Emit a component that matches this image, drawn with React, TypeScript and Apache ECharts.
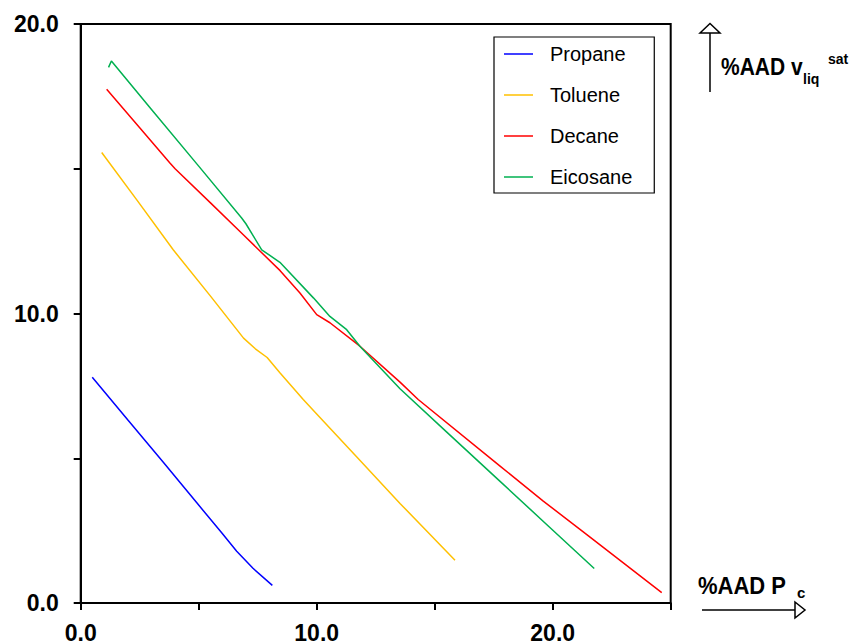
import React, { useEffect, useRef } from "react";
import * as echarts from "echarts";

const seriesNames = ["Propane", "Toluene", "Decane", "Eicosane"];
const seriesColors = ["#0000FF", "#FFC000", "#FF0000", "#00B050"];

const propane: number[][] = [
  [0.49, 7.8], [2.0, 6.32], [3.5, 4.86], [4.92, 3.46], [6.0, 2.4], [6.61, 1.79], [7.3, 1.2], [8.12, 0.61],
];
const toluene: number[][] = [
  [0.89, 15.56], [2.4, 13.9], [3.92, 12.2], [5.5, 10.6], [6.9, 9.15], [7.4, 8.78], [7.9, 8.48], [8.44, 7.95],
  [9.43, 7.03], [10.0, 6.53], [11.7, 5.04], [13.53, 3.44], [15.86, 1.48],
];
const decane: number[][] = [
  [1.1, 17.75], [2.5, 16.42], [3.78, 15.2], [4.0, 15.0], [5.5, 13.82], [6.89, 12.72], [8.45, 11.48],
  [9.29, 10.71], [10.0, 9.96], [10.56, 9.68], [11.83, 8.87], [13.53, 7.63], [14.3, 7.03], [17.77, 4.73],
  [19.6, 3.52], [21.5, 2.33], [24.62, 0.36],
];
const eicosane: number[][] = [
  [1.18, 18.5], [1.3, 18.72], [3.0, 17.05], [5.0, 15.09], [6.82, 13.3], [7.0, 13.1], [7.67, 12.2],
  [8.44, 11.77], [9.86, 10.54], [10.56, 9.9], [11.27, 9.44], [11.83, 8.87], [13.53, 7.4], [15.5, 5.91],
  [17.77, 4.2], [19.8, 2.67], [21.76, 1.19],
];
const seriesData = [propane, toluene, decane, eicosane];

const FONT = "Arial, 'Liberation Sans', sans-serif";

export default function App() {
  const ref = useRef<HTMLDivElement>(null);
  useEffect(() => {
    if (!ref.current) return;
    const chart = echarts.init(ref.current, undefined, { renderer: "svg" });
    const labelFmt = (v: number) => (v % 10 === 0 ? v.toFixed(1) : "");
    chart.setOption({
      animation: false,
      backgroundColor: "#fff",
      grid: {
        left: 80.7, top: 24, right: 190.3, bottom: 40.3,
        show: true, borderColor: "#000", borderWidth: 2, backgroundColor: "transparent",
      },
      xAxis: {
        type: "value", min: 0, max: 25, interval: 5,
        axisLine: { show: true, onZero: false, lineStyle: { color: "#000", width: 2 } },
        axisTick: { show: true, inside: false, length: 7, lineStyle: { color: "#000", width: 2 } },
        splitLine: { show: false },
        axisLabel: {
          formatter: labelFmt, margin: 18, color: "#000",
          fontSize: 23, fontWeight: "bold", fontFamily: FONT, showMaxLabel: true,
        },
      },
      yAxis: {
        type: "value", min: 0, max: 20, interval: 5,
        axisLine: { show: true, onZero: false, lineStyle: { color: "#000", width: 2 } },
        axisTick: { show: true, inside: false, length: 7, lineStyle: { color: "#000", width: 2 } },
        splitLine: { show: false },
        axisLabel: {
          formatter: labelFmt, margin: 22, color: "#000",
          fontSize: 23, fontWeight: "bold", fontFamily: FONT,
        },
      },
      legend: {
        orient: "vertical", left: 494, top: 37,
        padding: [7, 22, 6, 10],
        borderColor: "#000", borderWidth: 1.2, backgroundColor: "#fff",
        itemWidth: 29, itemHeight: 1.5, itemGap: 21,
        textStyle: { fontSize: 20, fontFamily: FONT, color: "#000", lineHeight: 20, padding: [0, 0, 0, 12] },
        data: seriesNames.map((name) => ({ name, icon: "rect" })),
      },
      series: seriesNames.map((name, i) => ({
        name, type: "line", data: seriesData[i], symbol: "none", showSymbol: false,
        smooth: false,
        lineStyle: { color: seriesColors[i], width: 1.5 },
        itemStyle: { color: seriesColors[i] },
      })),
      graphic: [
        // x axis annotation
        { type: "text", x: 698, y: 573, scaleY: 1.12, style: { text: "%AAD P", font: `bold 22px ${FONT}`, fill: "#000" } },
        { type: "text", x: 797, y: 585, style: { text: "c", font: `bold 15px ${FONT}`, fill: "#000" } },
        { type: "line", shape: { x1: 702, y1: 610, x2: 796, y2: 610 }, style: { stroke: "#000", lineWidth: 1.5 } },
        { type: "polygon", shape: { points: [[795, 602], [805, 610], [795, 618]] }, style: { fill: "#fff", stroke: "#000", lineWidth: 1.5 } },
        // y axis annotation
        { type: "line", shape: { x1: 710, y1: 92, x2: 710, y2: 33 }, style: { stroke: "#000", lineWidth: 1.5 } },
        { type: "polygon", shape: { points: [[700, 33], [710, 23.5], [720, 33]] }, style: { fill: "#fff", stroke: "#000", lineWidth: 1.5 } },
        { type: "text", x: 721, y: 55, scaleY: 1.12, style: { text: "%AAD v", font: `bold 21px ${FONT}`, fill: "#000" } },
        { type: "text", x: 803, y: 72, style: { text: "liq", font: `bold 14px ${FONT}`, fill: "#000" } },
        { type: "text", x: 828, y: 52, style: { text: "sat", font: `bold 14px ${FONT}`, fill: "#000" } },
      ],
    });
    return () => chart.dispose();
  }, []);
  return (
    <div
      ref={ref}
      style={{ position: "absolute", left: 0, top: 0, width: 861, height: 644, background: "#fff" }}
    />
  );
}
